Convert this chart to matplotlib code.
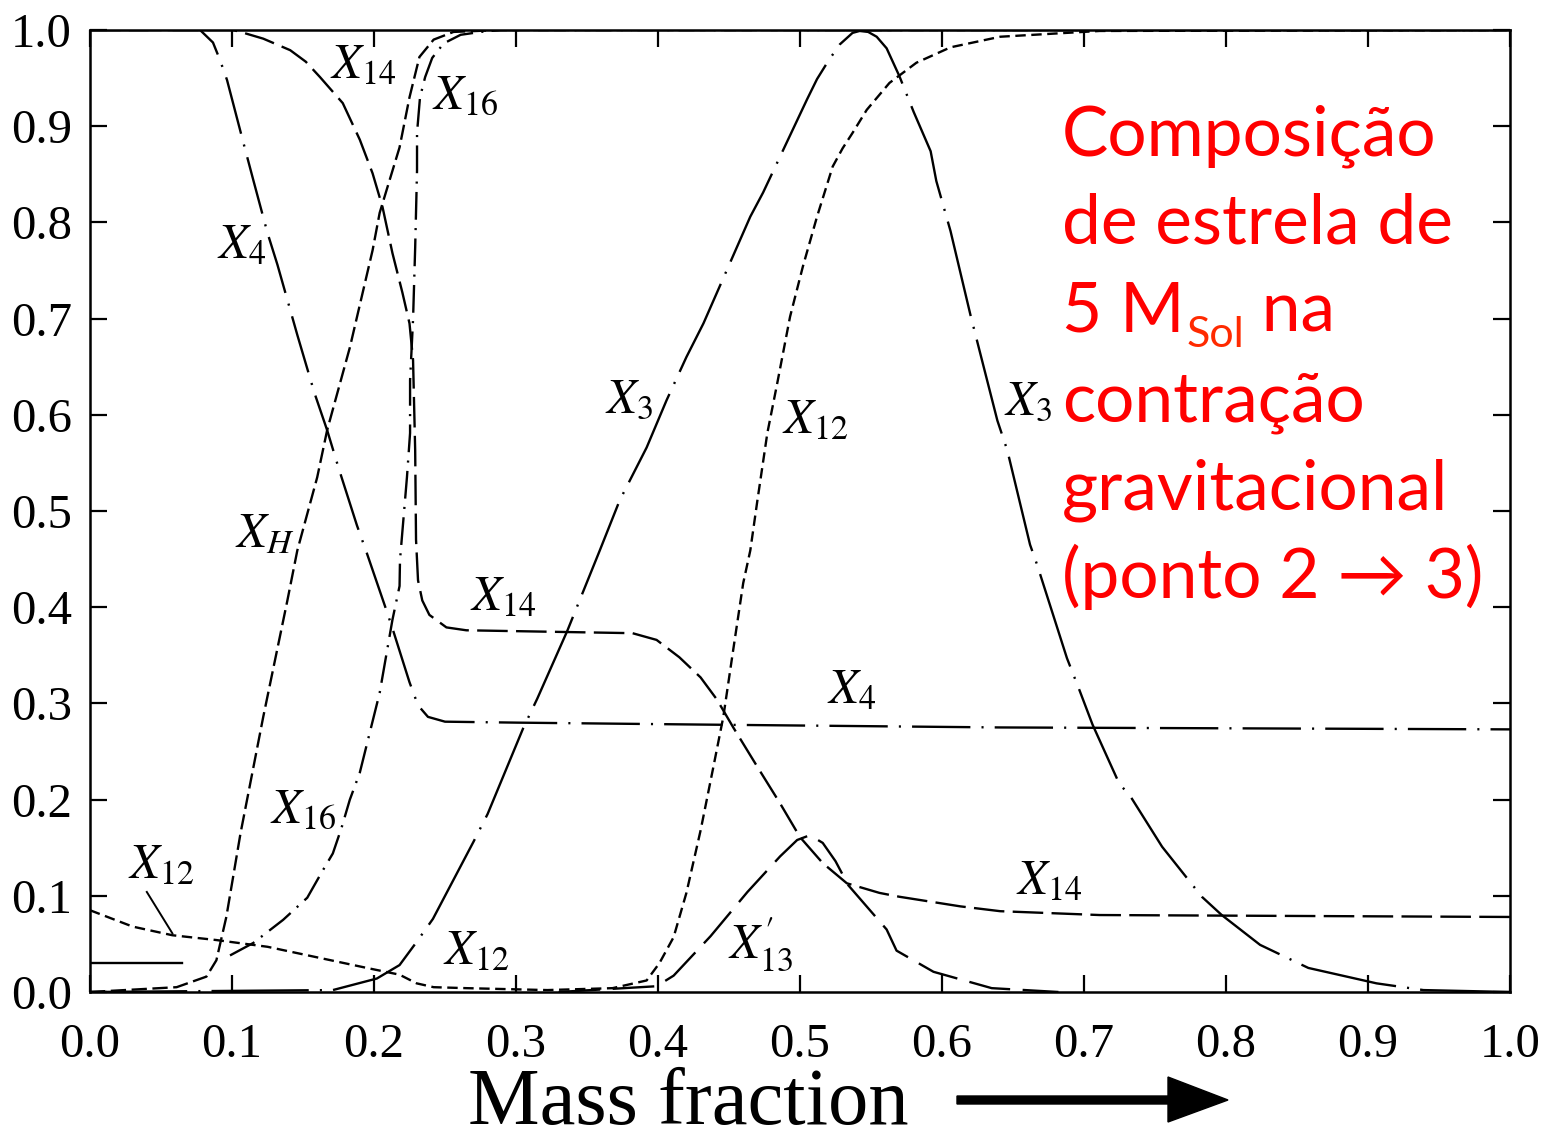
import numpy as np
import matplotlib
matplotlib.use("Agg")
import matplotlib.pyplot as plt
from matplotlib.patches import Polygon

plt.rcParams['lines.scale_dashes'] = False
plt.rcParams['mathtext.fontset'] = 'stix'

nan = np.nan

# ---- abundance profiles (normalised), mass fraction on x ----
xH_m = [0.0, 0.061, 0.082, 0.089, 0.096, 0.106, 0.122, 0.139, 0.146, 0.160, 0.167,
        0.183, 0.199, 0.204, 0.218, 0.225, 0.232, 0.242, 0.256, 0.289, 1.0]
xH_v = [0.0, 0.005, 0.016, 0.033, 0.078, 0.165, 0.286, 0.407, 0.459, 0.535, 0.584,
        0.670, 0.771, 0.810, 0.878, 0.930, 0.972, 0.990, 0.998, 1.0, 1.0]

x3_m = [0.0, 0.171, 0.202, 0.218, 0.230, 0.2415, 0.270, 0.280, 0.305, 0.315, 0.336,
        0.359, 0.373, 0.392, 0.406, 0.420, 0.432, 0.465, 0.474, 0.505, 0.512, 0.520,
        0.528, 0.537, 0.542, 0.548, 0.554, 0.561, 0.570, 0.580, 0.592, 0.596, 0.606,
        0.620, 0.639, 0.646, 0.662, 0.667, 0.688, 0.697, 0.706, 0.725, 0.732, 0.755,
        0.783, 0.797, 0.824, 0.858, 0.882, 0.906, 0.939, 1.0]
x3_v = [0.0, 0.002, 0.014, 0.028, 0.052, 0.076, 0.156, 0.185, 0.274, 0.305, 0.375,
        0.459, 0.511, 0.566, 0.615, 0.660, 0.695, 0.806, 0.831, 0.928, 0.949, 0.968,
        0.985, 0.997, 0.999, 0.998, 0.993, 0.981, 0.952, 0.915, 0.874, 0.843, 0.791,
        0.704, 0.594, 0.563, 0.465, 0.444, 0.347, 0.313, 0.278, 0.216, 0.205, 0.151,
        0.099, 0.080, 0.049, 0.025, 0.017, 0.009, 0.002, 0.0]

x4_m = [0.0, 0.0775, 0.0866, 0.0915, 0.0965, 0.108, 0.115, 0.125, 0.132, 0.146, 0.158,
        0.167, 0.175, 0.188, 0.195, 0.208, 0.213, 0.225, 0.231, 0.238, 0.250, 0.301,
        0.430, 0.641, 1.0]
x4_v = [1.0, 1.0, 0.987, 0.969, 0.948, 0.883, 0.844, 0.789, 0.756, 0.683, 0.623,
        0.584, 0.545, 0.485, 0.456, 0.400, 0.378, 0.322, 0.298, 0.286, 0.281, 0.280,
        0.278, 0.275, 0.273]

x12_m = [0.0, 0.030, 0.058, 0.089, 0.125, 0.160, 0.195, 0.218, 0.230, 0.242, 0.265,
         0.322, 0.368, 0.392, 0.401, 0.411, 0.420, 0.430, 0.439, 0.446, 0.453, 0.460,
         0.465, 0.470, 0.477, 0.484, 0.493, 0.502, 0.512, 0.523, 0.530, 0.537, 0.547,
         0.563, 0.582, 0.606, 0.641, 0.711, 1.0]
x12_v = [0.085, 0.068, 0.059, 0.054, 0.047, 0.036, 0.025, 0.018, 0.009, 0.005, 0.004,
         0.002, 0.004, 0.012, 0.030, 0.057, 0.103, 0.168, 0.234, 0.286, 0.356, 0.425,
         0.459, 0.511, 0.581, 0.633, 0.702, 0.754, 0.806, 0.858, 0.877, 0.893, 0.917,
         0.945, 0.966, 0.982, 0.993, 0.999, 1.0]

x13_m = [0.33, 0.399, 0.411, 0.437, 0.463, 0.486, 0.498, 0.507, 0.516, 0.525, 0.534,
         0.561, 0.568, 0.594, 0.635, 0.682]
x13_v = [0.0, 0.006, 0.017, 0.058, 0.104, 0.141, 0.158, 0.163, 0.155, 0.136, 0.111,
         0.065, 0.043, 0.021, 0.004, 0.0]

x14_m = [0.0, 0.1007, 0.106, 0.122, 0.141, 0.152, 0.162, 0.178, 0.190, 0.199, 0.206,
         0.213, 0.220, 0.225, 0.2275, 0.229, 0.2296, 0.231, 0.234, 0.239, 0.251, 0.265,
         0.382, 0.399, 0.415, 0.430, 0.4415, 0.453, 0.470, 0.486, 0.500, 0.516, 0.533,
         0.556, 0.570, 0.613, 0.641, 0.711, 1.0]
x14_v = [1.0, 1.0, 0.998, 0.991, 0.979, 0.967, 0.951, 0.924, 0.886, 0.851, 0.816,
         0.768, 0.727, 0.695, 0.657, 0.563, 0.470, 0.428, 0.407, 0.392, 0.379, 0.376,
         0.373, 0.366, 0.348, 0.327, 0.304, 0.275, 0.234, 0.196, 0.161, 0.134, 0.113,
         0.103, 0.099, 0.089, 0.084, 0.080, 0.078]

x16_m = [0.0, 0.065, nan, 0.0986, 0.115, 0.136, 0.153, 0.163, 0.171, 0.177, 0.183,
         0.190, 0.204, 0.213, 0.218, 0.2183, 0.2232, 0.2254, 0.2254, 0.2275, 0.229,
         0.2303, 0.2303, 0.2324, 0.236, 0.241, 0.249, 0.261, 0.275, 0.289, 1.0]
x16_v = [0.030, 0.030, nan, 0.038, 0.051, 0.075, 0.098, 0.124, 0.144, 0.170, 0.200,
         0.228, 0.311, 0.387, 0.422, 0.449, 0.535, 0.581, 0.636, 0.699, 0.774, 0.854,
         0.893, 0.930, 0.951, 0.971, 0.986, 0.995, 0.998, 1.0, 1.0]

xticks = [0.0, 0.1, 0.2, 0.3, 0.4, 0.5, 0.6, 0.7, 0.8, 0.9, 1.0]
yticks = [0.0, 0.1, 0.2, 0.3, 0.4, 0.5, 0.6, 0.7, 0.8, 0.9, 1.0]

W, H = 1548, 1138
fig = plt.figure(figsize=(W / 100, H / 100), dpi=100)
ax = fig.add_axes([90 / W, 1 - 992 / H, 1420 / W, 962 / H])

lw = 1.7
k = 'black'
ax.plot(xH_m, xH_v, color=k, lw=lw, dashes=(11, 4))
ax.plot(x3_m, x3_v, color=k, lw=lw, dashes=(70, 8, 1.5, 8))
ax.plot(x4_m, x4_v, color=k, lw=lw, dashes=(42, 8, 1.5, 8))
ax.plot(x12_m, x12_v, color=k, lw=lw, dashes=(7.5, 4))
ax.plot(x13_m, x13_v, color=k, lw=lw, dashes=(30, 9))
ax.plot(x14_m, x14_v, color=k, lw=lw, dashes=(22, 6))
ax.plot(x16_m[:2], x16_v[:2], color=k, lw=lw)
ax.plot(x16_m[3:], x16_v[3:], color=k, lw=lw, dashes=(20, 6, 1.5, 6))

ax.set_xlim(0, 1)
ax.set_ylim(0, 1)
ax.set_xticks(xticks)
ax.set_yticks(yticks)
ax.set_xticklabels([f"{t:.1f}" for t in xticks])
ax.set_yticklabels([f"{t:.1f}" for t in yticks])
for s in ax.spines.values():
    s.set_linewidth(1.8)
ax.tick_params(axis='both', direction='in', length=12, width=1.6,
               top=True, right=True, labelsize=35)
ax.tick_params(axis='x', pad=22)
ax.tick_params(axis='y', pad=13)
for lab in ax.get_xticklabels() + ax.get_yticklabels():
    lab.set_family('Liberation Serif')

# curve labels
lab_kw = dict(fontsize=35, ha='left', va='baseline', color=k)
curve_labels = [
    (0.169, 0.950, r'$X_{14}$'),
    (0.241, 0.919, r'$X_{16}$'),
    (0.0894, 0.763, r'$X_{4}$'),
    (0.102, 0.4626, r'$X_{H}$'),
    (0.1268, 0.1767, r'$X_{16}$'),
    (0.0268, 0.1185, r'$X_{12}$'),
    (0.2486, 0.029, r'$X_{12}$'),
    (0.2676, 0.397, r'$X_{14}$'),
    (0.519, 0.300, r'$X_{4}$'),
    (0.449, 0.036, r'$X^{\prime}_{13}$'),
    (0.3627, 0.602, r'$X_{3}$'),
    (0.487, 0.581, r'$X_{12}$'),
    (0.644, 0.600, r'$X_{3}$'),
    (0.652, 0.101, r'$X_{14}$'),
]
for lx, ly, s in curve_labels:
    ax.text(lx, ly, s, **lab_kw)
# leader from the left X12 label to its curve
ax.plot([0.040, 0.058], [0.104, 0.061], color=k, lw=1.4)

# axis title with arrow
fig.text(688 / W, 1 - 1124 / H, 'Mass fraction', family='Liberation Serif',
         fontsize=58, ha='center', va='baseline')
arrow_px = [(957, 1096), (1168, 1096), (1168, 1077), (1228, 1100),
            (1168, 1122), (1168, 1104), (957, 1104)]
fig.add_artist(Polygon([(x / 100, (H - y) / 100) for x, y in arrow_px],
                       closed=True, transform=fig.dpi_scale_trans,
                       facecolor=k, edgecolor=k))

# red annotation block
red = '#ff0000'
fam = ['Lato', 'DejaVu Sans']
fs = 50
x0 = 1062 / W
lines = [("Composição", 155), ("de estrela de", 243), (None, 332),
         ("contração", 421), ("gravitacional", 510), ("(ponto 2 → 3)", 598)]
for txt, base in lines:
    if txt is not None:
        fig.text(x0, 1 - base / H, txt, color=red, fontsize=fs, family=fam,
                 ha='left', va='baseline')

r = fig.canvas.get_renderer()
t1 = fig.text(x0, 1 - 332 / H, "5 M", color=red, fontsize=fs, family=fam,
              ha='left', va='baseline')
bb = t1.get_window_extent(r)
t2 = fig.text(bb.x1 / W + 2 / W, 1 - 347 / H, "Sol", color='#ff2a00',
              fontsize=fs * 0.62, family=fam, ha='left', va='baseline')
bb2 = t2.get_window_extent(r)
fig.text(bb2.x1 / W, 1 - 332 / H, " na", color=red, fontsize=fs, family=fam,
         ha='left', va='baseline')

fig.savefig('out.png', dpi=100)
